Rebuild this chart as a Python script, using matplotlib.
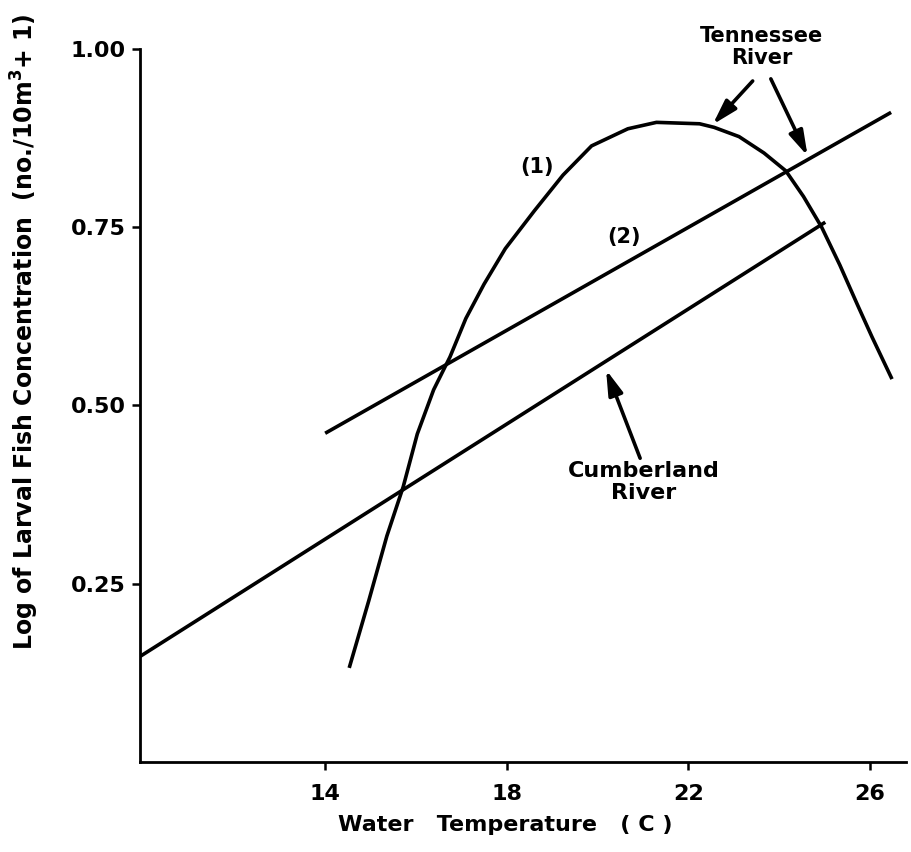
#!/usr/bin/env python3
"""Larval fish concentration vs water temperature (Tennessee / Cumberland)."""

import matplotlib

matplotlib.use("Agg")
import matplotlib.pyplot as plt  # noqa: E402

# curve (1): Tennessee River
CURVE_TEMP = [14.53, 14.96, 15.36, 15.72, 16.03, 16.39, 16.75, 17.10, 17.50,
              17.97, 18.61, 19.24, 19.87, 20.67, 21.30, 22.25, 22.57, 23.12,
              23.67, 24.15, 24.54, 24.94, 25.34, 25.73, 26.05, 26.49]
CURVE_CONC = [0.132, 0.226, 0.317, 0.386, 0.460, 0.522, 0.568, 0.622, 0.670,
              0.720, 0.773, 0.823, 0.864, 0.888, 0.897, 0.895, 0.890, 0.877,
              0.854, 0.829, 0.793, 0.750, 0.697, 0.641, 0.596, 0.537]

# line (2): Tennessee River regression
TENN_TEMP = [14.0, 26.47]
TENN_CONC = [0.461, 0.911]

# Cumberland River regression
CUMB_TEMP = [9.92, 25.02]
CUMB_CONC = [0.148, 0.757]

X_TICKS = [14, 18, 22, 26]
Y_TICKS = [0.25, 0.50, 0.75, 1.00]
Y_TICK_LABELS = ["0.25", "0.50", "0.75", "1.00"]

plt.rcParams["font.family"] = "DejaVu Sans"
plt.rcParams["mathtext.default"] = "bf"

fig = plt.figure(figsize=(9.12, 8.52), dpi=100)
ax = fig.add_axes([0.1535, 0.1056, 0.84, 0.837])

line_kw = dict(color="black", linewidth=2.6, solid_capstyle="butt",
               solid_joinstyle="round")
ax.plot(CURVE_TEMP, CURVE_CONC, **line_kw)
ax.plot(TENN_TEMP, TENN_CONC, **line_kw)
ax.plot(CUMB_TEMP, CUMB_CONC, **line_kw)

ax.set_xlim(9.92, 26.8)
ax.set_ylim(0.0, 1.0)
for side in ("top", "right"):
    ax.spines[side].set_visible(False)
for side in ("left", "bottom"):
    ax.spines[side].set_linewidth(2.0)

ax.set_xticks(X_TICKS)
ax.set_xticklabels([str(t) for t in X_TICKS], fontsize=16, fontweight="bold")
ax.set_yticks(Y_TICKS)
ax.set_yticklabels(Y_TICK_LABELS, fontsize=16, fontweight="bold")
ax.tick_params(axis="both", direction="out", length=6, width=1.8, pad=4)
ax.tick_params(axis="x", pad=10)

text_kw = dict(fontsize=15, fontweight="bold", ha="center", va="center")
ax.text(18.67, 0.834, "(1)", **text_kw)
ax.text(20.59, 0.736, "(2)", **text_kw)
ax.text(23.62, 1.003, "Tennessee\nRiver", linespacing=1.1, clip_on=False,
        fontsize=15, fontweight="bold", ha="center", va="center")
ax.text(21.02, 0.393, "Cumberland\nRiver", linespacing=1.1,
        fontsize=16, fontweight="bold", ha="center", va="center")

arrow = dict(arrowstyle="-|>,head_length=0.75,head_width=0.22", color="black",
             lw=2.6, mutation_scale=20, shrinkA=0, shrinkB=0)
ax.annotate("", xy=(22.54, 0.894), xytext=(23.42, 0.955), arrowprops=arrow,
            annotation_clip=False)
ax.annotate("", xy=(24.63, 0.850), xytext=(23.82, 0.958), arrowprops=arrow,
            annotation_clip=False)
ax.annotate("", xy=(20.19, 0.550), xytext=(20.94, 0.426), arrowprops=arrow)

fig.text(0.027, 0.61,
         "Log of Larval Fish Concentration  (no./10m$^{3}$+ 1)",
         rotation=90, fontsize=17, fontweight="bold", ha="center", va="center")
fig.text(0.554, 0.032, "Water   Temperature   ( C )",
         fontsize=16, fontweight="bold", ha="center", va="center")

fig.savefig("out.png", dpi=100)
